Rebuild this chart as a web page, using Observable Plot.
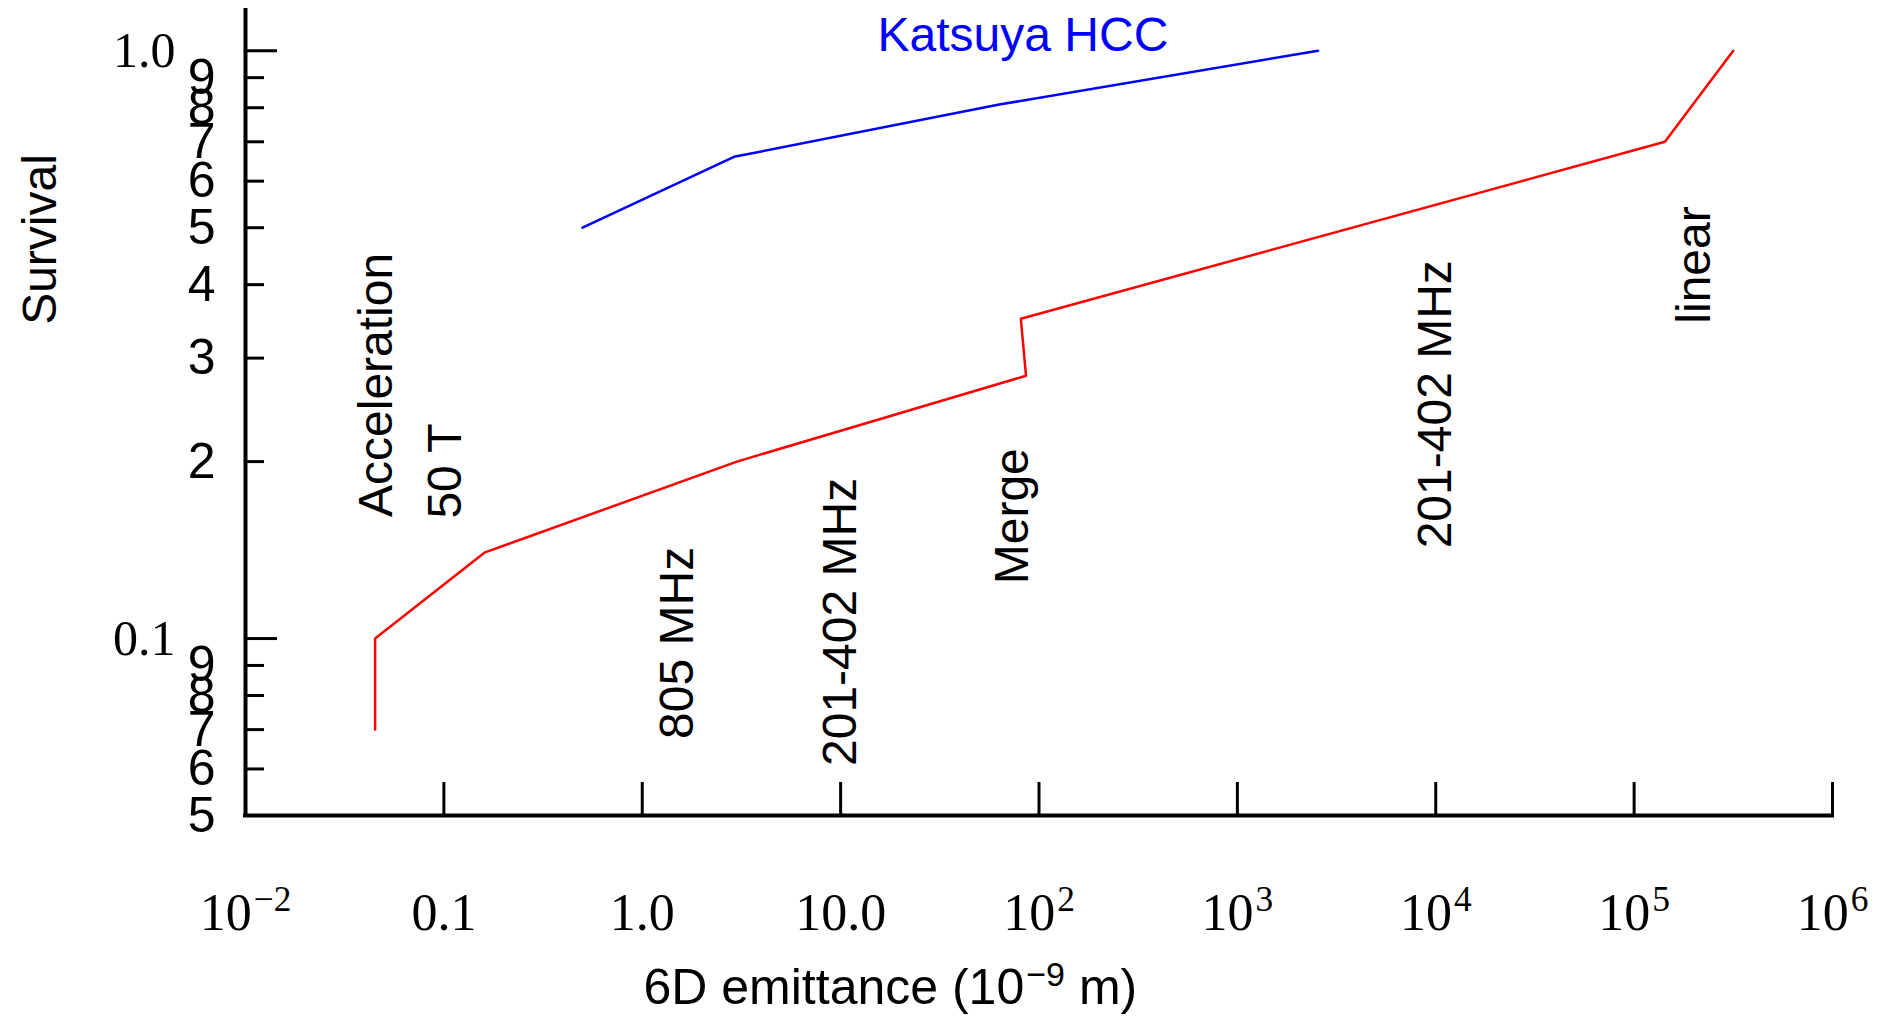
<!DOCTYPE html>
<html>
<head>
<meta charset="utf-8">
<script src="https://cdn.jsdelivr.net/npm/d3@7"></script>
<script src="https://cdn.jsdelivr.net/npm/@observablehq/plot@0.6"></script>
<style>
  html, body { margin: 0; padding: 0; background: #fff; }
  svg { display: block; }
</style>
</head>
<body>
<div id="chart"></div>
<script>
// ---- data ----
const redX = [0.045, 0.045, 0.16, 3.0, 86, 81, 1.43e5, 3.16e5];
const redY = [0.07, 0.10, 0.14, 0.20, 0.28, 0.35, 0.70, 1.0];
const blueX = [0.5, 2.9, 63, 2550];
const blueY = [0.5, 0.66, 0.81, 1.0];
const seriesName = "Katsuya HCC";
const seriesNameX = [83];
const seriesNameY = [1.062];
const labelText = ["Acceleration", "50 T", "805 MHz", "201-402 MHz", "Merge", "201-402 MHz", "linear"];
const labelX = [0.046, 0.1025, 1.51, 10.0, 74, 1.0e4, 2.02e5];
const labelY = [0.161, 0.160, 0.0675, 0.0607, 0.1237, 0.1424, 0.3433];
const xTicks = [1e-2, 1e-1, 1, 10, 1e2, 1e3, 1e4, 1e5, 1e6];
const xTickLabels = ["10^{-2}", "0.1", "1.0", "10.0", "10^{2}", "10^{3}", "10^{4}", "10^{5}", "10^{6}"];
const yMajorTicks = [1.0, 0.1];
const yMajorLabels = ["1.0", "0.1"];
const yMinorTicks = [0.9, 0.8, 0.7, 0.6, 0.5, 0.4, 0.3, 0.2, 0.09, 0.08, 0.07, 0.06, 0.05];
const yMinorLabels = ["9", "8", "7", "6", "5", "4", "3", "2", "9", "8", "7", "6", "5"];
const xDomain = [1e-2, 1e6];
const yDomain = [0.05, 1.18];
const xTitle = "6D emittance (10^{-9} m)";
const yTitle = "Survival";

// ---- layout ----
const W = 1886, H = 1019;
const mL = 245, mR = 54, mT = 8, mB = 204;
const innerW = W - mL - mR;
const innerH = H - mT - mB;
const SANS = "Liberation Sans, Arial, sans-serif";
const SERIF = "Liberation Serif, Times New Roman, serif";

const red = redX.map((x, i) => ({x, y: redY[i]}));
const blue = blueX.map((x, i) => ({x, y: blueY[i]}));
const labels = labelText.map((t, i) => ({t, x: labelX[i], y: labelY[i]}));

const chart = Plot.plot({
  width: W, height: H,
  marginLeft: mL, marginRight: mR, marginTop: mT, marginBottom: mB,
  x: {type: "log", domain: xDomain, axis: null},
  y: {type: "log", domain: yDomain, axis: null},
  style: {background: "white", fontFamily: SANS, color: "black"},
  marks: [
    // ticks (inward)
    Plot.ruleX(xTicks, {x: d => d, insetTop: innerH - 33, stroke: "black", strokeWidth: 3}),
    Plot.ruleY(yMajorTicks, {y: d => d, insetRight: innerW - 32, stroke: "black", strokeWidth: 3}),
    Plot.ruleY(yMinorTicks, {y: d => d, insetRight: innerW - 19, stroke: "black", strokeWidth: 3}),
    // axis lines
    Plot.ruleX([xDomain[0]], {x: d => d, stroke: "black", strokeWidth: 4}),
    Plot.ruleY([yDomain[0]], {y: d => d, stroke: "black", strokeWidth: 4, strokeLinecap: "square"}),
    // series
    Plot.line(red, {x: "x", y: "y", stroke: "#ff0000", strokeWidth: 2.5}),
    Plot.line(blue, {x: "x", y: "y", stroke: "#0000ff", strokeWidth: 2.5}),
    Plot.text([seriesName], {x: () => seriesNameX[0], y: () => seriesNameY[0], text: d => d,
      fill: "#0000ff", fontSize: 48, fontFamily: SANS, textAnchor: "middle", lineAnchor: "middle"}),
    // annotations
    Plot.text(labels, {x: "x", y: "y", text: "t", rotate: -90, textAnchor: "start", lineAnchor: "middle",
      fontSize: 48, fontFamily: SANS, fill: "black"}),
    // x tick labels
    Plot.text(xTicks, {x: d => d, text: (d, i) => xTickLabels[i], frameAnchor: "bottom", dy: 98,
      fontSize: 52, fontFamily: SERIF, textAnchor: "middle", lineAnchor: "middle", fill: "black"}),
    // y tick labels
    Plot.text(yMajorTicks, {y: d => d, text: (d, i) => yMajorLabels[i], frameAnchor: "left", dx: -70,
      fontSize: 50, fontFamily: SERIF, textAnchor: "end", lineAnchor: "middle", fill: "black"}),
    Plot.text(yMinorTicks, {y: d => d, text: (d, i) => yMinorLabels[i], frameAnchor: "left", dx: -30,
      fontSize: 50, fontFamily: SANS, textAnchor: "end", lineAnchor: "middle", fill: "black"}),
    // axis titles
    Plot.text([xTitle], {text: d => d, frameAnchor: "bottom-left", dx: 643 - mL, dy: 172,
      fontSize: 50, fontFamily: SANS, textAnchor: "start", lineAnchor: "middle", fill: "black"}),
    Plot.text([yTitle], {text: d => d, frameAnchor: "top-left", dx: 40 - mL, dy: 239 - mT, rotate: -90,
      fontSize: 48, fontFamily: SANS, textAnchor: "middle", lineAnchor: "middle", fill: "black"})
  ]
});

document.getElementById("chart").appendChild(chart);

// superscripts: turn "^{...}" into raised tspans
chart.querySelectorAll("text").forEach(t => {
  const s = t.textContent;
  if (!s.includes("^{")) return;
  const fs = parseFloat(getComputedStyle(t).fontSize) || 48;
  const supFs = fs * 0.68;
  const raise = fs * 0.36;
  t.textContent = "";
  const parts = s.split(/(\^\{[^}]*\})/);
  let raised = false;
  parts.forEach(p => {
    if (!p) return;
    const ts = document.createElementNS("http://www.w3.org/2000/svg", "tspan");
    if (p.startsWith("^{")) {
      ts.textContent = p.slice(2, -1).replace("-", "\u2212");
      ts.setAttribute("font-size", supFs);
      ts.setAttribute("dy", -raise);
      ts.setAttribute("dx", fs * 0.04);
      raised = true;
    } else {
      ts.textContent = p;
      if (raised) { ts.setAttribute("dy", raise); raised = false; }
    }
    t.appendChild(ts);
  });
});
</script>
</body>
</html>
